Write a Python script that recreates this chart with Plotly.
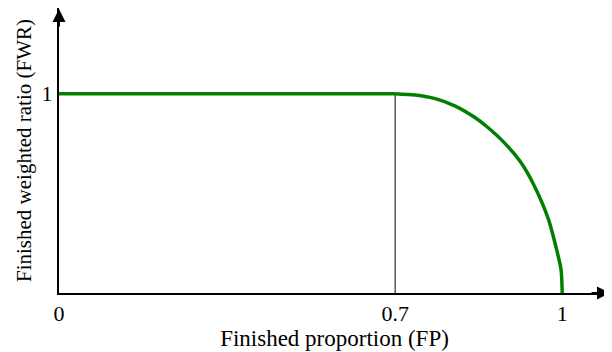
import numpy as np
import plotly.graph_objects as go

# Data (schematic chart)
flat_fp = [0.0, 0.7]
flat_fwr = [1.0, 1.0]
curve_fp = [0.7, 0.736, 0.772, 0.808, 0.844, 0.865, 0.895, 0.925, 0.948, 0.975, 0.990, 0.998, 1.0]
curve_fwr = [1.0, 0.993, 0.975, 0.938, 0.879, 0.834, 0.757, 0.658, 0.548, 0.372, 0.218, 0.116, 0.0]
threshold_fp = 0.7
threshold_fwr = 1.0

x_tick_values = [0.0, 0.7, 1.0]
x_tick_labels = ["0", "0.7", "1"]
y_tick_values = [1.0]
y_tick_labels = ["1"]

# The x axis of the schematic is not linear: 0.7 sits at about 2/3 of the width
axis_break_positions = [0.0, 0.668, 1.0]


def to_axis(v):
    return np.interp(v, x_tick_values, axis_break_positions)


font_family = "Liberation Serif"
green = "#008000"

fig = go.Figure()
fig.add_trace(go.Scatter(
    x=[to_axis(threshold_fp), to_axis(threshold_fp)], y=[0, threshold_fwr],
    mode="lines", line=dict(color="black", width=1), hoverinfo="skip", showlegend=False))
fig.add_trace(go.Scatter(
    x=to_axis(flat_fp), y=flat_fwr, mode="lines",
    line=dict(color=green, width=3.5), showlegend=False))
fig.add_trace(go.Scatter(
    x=to_axis(curve_fp), y=curve_fwr, mode="lines",
    line=dict(color=green, width=3.5, shape="spline", smoothing=0.7),
    showlegend=False))

x_max = 1.095
y_max = 1.43

# page body has an 8px margin: size the figure so it ends at the window edge
fig.update_layout(
    width=604, height=344,
    margin=dict(l=51, r=2, t=0, b=59),
    paper_bgcolor="white", plot_bgcolor="white",
    font=dict(family=font_family, size=22, color="black"),
    xaxis=dict(range=[0, x_max], showgrid=False, zeroline=False, showline=True,
               linecolor="black", linewidth=2, automargin=False,
               tickvals=list(to_axis(x_tick_values)), ticktext=x_tick_labels,
               ticks="", tickfont=dict(family=font_family, size=22),
               title=dict(text="Finished proportion (FP)", standoff=0,
                          font=dict(family=font_family, size=23))),
    yaxis=dict(range=[0, y_max], showgrid=False, zeroline=False, showline=True,
               linecolor="black", linewidth=2, automargin=False,
               tickvals=y_tick_values, ticktext=y_tick_labels, ticks="",
               tickfont=dict(family=font_family, size=22),
               title=dict(text="Finished weighted ratio (FWR)", standoff=4,
                          font=dict(family=font_family, size=21))),
)

# arrowheads on the axes
fig.add_annotation(xref="paper", yref="paper", x=1.0, y=0, ax=-20, ay=0,
                   showarrow=True, arrowhead=2, arrowsize=1.3, arrowwidth=2,
                   arrowcolor="black", text="")
fig.add_annotation(xref="paper", yref="paper", x=0, y=1.0, ax=0, ay=20,
                   showarrow=True, arrowhead=2, arrowsize=1.3, arrowwidth=2,
                   arrowcolor="black", text="")

fig.write_html("out.html")
